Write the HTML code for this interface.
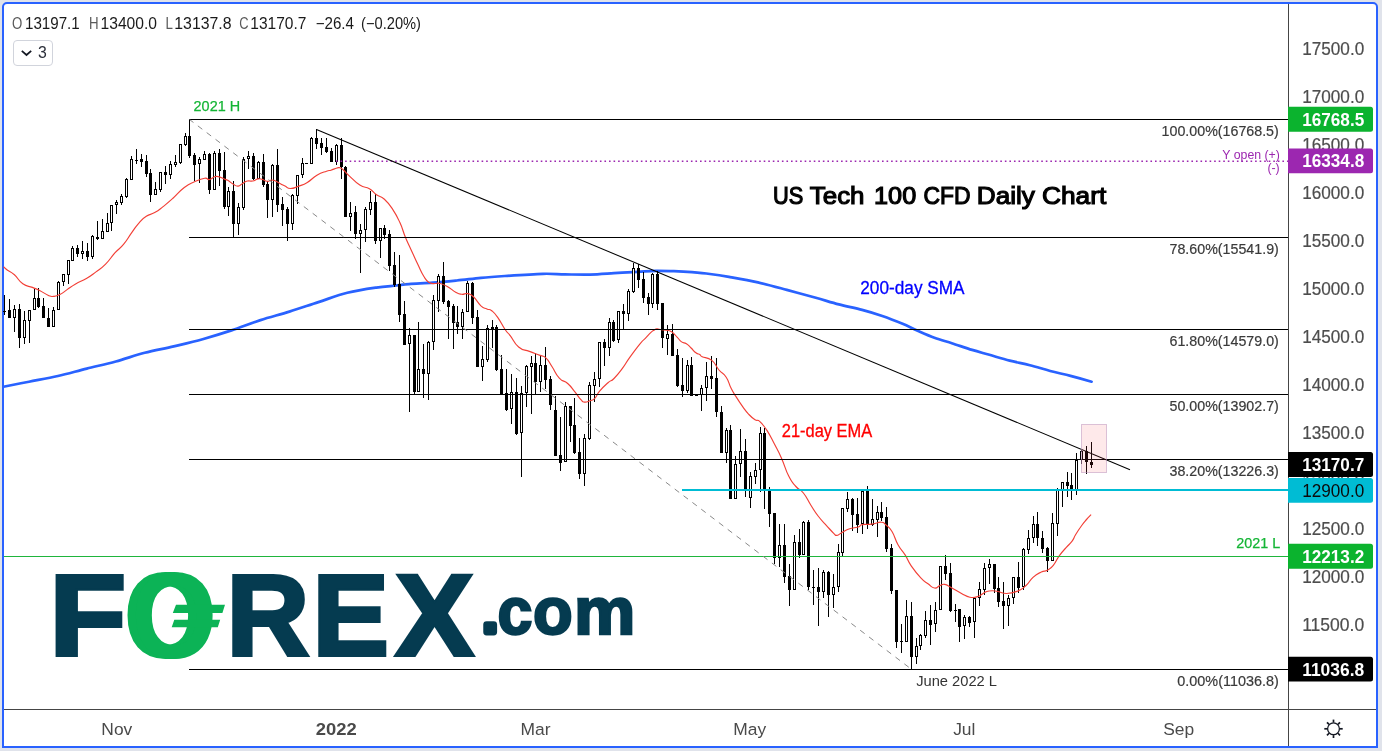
<!DOCTYPE html>
<html lang="en"><head><meta charset="utf-8"><title>US Tech 100 CFD Daily Chart</title>
<style>
html,body{margin:0;padding:0;}
body{width:1382px;height:751px;overflow:hidden;background:#e0e3eb;font-family:"Liberation Sans",sans-serif;position:relative;}
#frame{position:absolute;left:2px;top:2px;width:1372px;height:742px;border:2px solid #2962ff;border-radius:5px 5px 0 0;background:#fff;}
svg{position:absolute;left:0;top:0;will-change:transform;}
text{font-family:"Liberation Sans",sans-serif;}
.ax{font-size:18.2px;fill:#4d4d4d;stroke:#4d4d4d;stroke-width:0.2px;}
.tag{font-size:18.2px;font-weight:bold;fill:#fff;}
.fib{font-size:14.8px;fill:#3a3a3a;stroke:#3a3a3a;stroke-width:0.2px;}
.lg{font-size:16px;}
</style></head><body>
<div id="frame"></div>

<svg width="1382" height="751" viewBox="0 0 1382 751">
<path fill="none" stroke="#2962ff" stroke-width="2.7" stroke-linejoin="round" stroke-linecap="round" d="M3.5 386.8C7.8 385.9 19.9 383.5 29.0 381.7C38.1 379.9 48.3 378.2 57.9 376.0C67.5 373.8 77.1 371.0 86.8 368.6C96.5 366.2 106.2 364.1 115.8 361.5C125.4 358.9 135.0 355.3 144.7 352.8C154.3 350.3 164.0 348.7 173.7 346.4C183.3 344.1 193.0 341.9 202.6 339.2C212.2 336.5 221.8 333.6 231.5 330.4C241.2 327.2 250.8 323.2 260.5 320.1C270.1 317.0 279.8 314.6 289.4 311.6C299.0 308.6 308.8 305.2 318.4 302.1C328.0 299.0 337.6 295.2 347.3 292.8C357.0 290.4 368.1 288.8 376.3 287.6C384.5 286.4 391.1 286.1 396.5 285.5C401.9 284.9 402.9 284.6 409.0 284.1C415.1 283.6 425.0 283.3 433.0 282.7C441.0 282.1 448.9 281.3 456.9 280.5C464.9 279.7 472.9 278.6 480.9 277.8C488.9 277.1 494.5 276.7 504.9 276.0C515.2 275.3 533.0 274.1 543.0 273.8C553.0 273.5 557.2 274.3 565.0 274.4C572.8 274.5 581.8 274.8 590.0 274.6C598.2 274.4 606.0 273.7 614.0 273.2C622.0 272.7 631.0 272.2 638.0 271.8C645.0 271.4 649.9 270.9 655.9 270.8C661.9 270.7 667.9 271.0 673.9 271.2C679.9 271.4 685.9 271.7 691.9 272.2C697.9 272.7 703.7 273.2 709.9 274.0C716.1 274.8 720.9 275.5 728.9 276.9C736.9 278.3 748.2 280.2 757.9 282.4C767.5 284.6 777.1 287.3 786.8 289.9C796.4 292.5 807.1 295.4 815.8 297.8C824.5 300.2 831.2 302.4 838.9 304.4C846.6 306.4 854.9 308.0 862.1 309.9C869.3 311.8 875.5 313.7 882.3 316.0C889.0 318.3 896.8 321.4 902.6 323.8C908.4 326.2 911.8 328.2 917.1 330.5C922.4 332.8 928.6 335.6 934.4 337.7C940.2 339.8 945.5 341.2 951.8 343.2C958.1 345.2 965.8 348.0 972.1 349.9C978.4 351.8 983.1 353.0 989.4 354.8C995.7 356.6 1003.0 358.9 1009.7 360.6C1016.5 362.3 1023.2 363.5 1029.9 365.2C1036.7 366.9 1043.4 369.2 1050.2 371.0C1057.0 372.8 1063.6 374.1 1070.5 375.9C1077.4 377.7 1088.1 380.7 1091.6 381.7"/>
<g shape-rendering="crispEdges" stroke="#000" stroke-width="1">
<line x1="4.5" y1="295" x2="4.5" y2="315"/>
<line x1="3.0" y1="311.5" x2="6.0" y2="311.5"/>
<line x1="9.5" y1="299" x2="9.5" y2="318"/>
<rect x="8.0" y="310" width="3" height="8" fill="#000" stroke="none"/>
<line x1="14.5" y1="305" x2="14.5" y2="332"/>
<rect x="13.5" y="309.5" width="2" height="8" fill="#fff"/>
<line x1="19.5" y1="304" x2="19.5" y2="348"/>
<rect x="18.0" y="309" width="3" height="29" fill="#000" stroke="none"/>
<line x1="24.5" y1="311" x2="24.5" y2="344"/>
<rect x="23.5" y="320.5" width="2" height="17" fill="#fff"/>
<line x1="29.5" y1="310" x2="29.5" y2="343"/>
<rect x="28.5" y="310.5" width="2" height="10" fill="#fff"/>
<line x1="34.5" y1="289" x2="34.5" y2="310"/>
<rect x="33.5" y="298.5" width="2" height="11" fill="#fff"/>
<line x1="38.5" y1="288" x2="38.5" y2="308"/>
<rect x="37.0" y="298" width="3" height="9" fill="#000" stroke="none"/>
<line x1="43.5" y1="298" x2="43.5" y2="318"/>
<rect x="42.0" y="306" width="3" height="12" fill="#000" stroke="none"/>
<line x1="48.5" y1="308" x2="48.5" y2="327"/>
<rect x="47.0" y="318" width="3" height="9" fill="#000" stroke="none"/>
<line x1="53.5" y1="307" x2="53.5" y2="327"/>
<rect x="52.5" y="310.5" width="2" height="16" fill="#fff"/>
<line x1="58.5" y1="281" x2="58.5" y2="310"/>
<rect x="57.5" y="282.5" width="2" height="27" fill="#fff"/>
<line x1="63.5" y1="274" x2="63.5" y2="286"/>
<rect x="62.5" y="274.5" width="2" height="7" fill="#fff"/>
<line x1="68.5" y1="260" x2="68.5" y2="284"/>
<rect x="67.5" y="260.5" width="2" height="14" fill="#fff"/>
<line x1="72.5" y1="246" x2="72.5" y2="261"/>
<rect x="71.5" y="248.5" width="2" height="12" fill="#fff"/>
<line x1="77.5" y1="245" x2="77.5" y2="257"/>
<rect x="76.0" y="248" width="3" height="6" fill="#000" stroke="none"/>
<line x1="82.5" y1="241" x2="82.5" y2="259"/>
<rect x="81.5" y="251.5" width="2" height="2" fill="#fff"/>
<line x1="87.5" y1="243" x2="87.5" y2="261"/>
<rect x="86.0" y="251" width="3" height="6" fill="#000" stroke="none"/>
<line x1="92.5" y1="235" x2="92.5" y2="259"/>
<rect x="91.5" y="236.5" width="2" height="20" fill="#fff"/>
<line x1="97.5" y1="221" x2="97.5" y2="240"/>
<rect x="96.0" y="237" width="3" height="2" fill="#000" stroke="none"/>
<line x1="102.5" y1="219" x2="102.5" y2="239"/>
<rect x="101.5" y="231.5" width="2" height="7" fill="#fff"/>
<line x1="107.5" y1="213" x2="107.5" y2="232"/>
<rect x="106.5" y="223.5" width="2" height="8" fill="#fff"/>
<line x1="111.5" y1="205" x2="111.5" y2="231"/>
<rect x="110.5" y="205.5" width="2" height="17" fill="#fff"/>
<line x1="116.5" y1="200" x2="116.5" y2="214"/>
<rect x="115.5" y="202.5" width="2" height="2" fill="#fff"/>
<line x1="121.5" y1="194" x2="121.5" y2="205"/>
<rect x="120.5" y="196.5" width="2" height="6" fill="#fff"/>
<line x1="126.5" y1="178" x2="126.5" y2="198"/>
<rect x="125.5" y="179.5" width="2" height="17" fill="#fff"/>
<line x1="131.5" y1="156" x2="131.5" y2="180"/>
<rect x="130.5" y="159.5" width="2" height="20" fill="#fff"/>
<line x1="136.5" y1="149" x2="136.5" y2="164"/>
<line x1="135.0" y1="160.5" x2="138.0" y2="160.5"/>
<line x1="141.5" y1="154" x2="141.5" y2="167"/>
<rect x="140.0" y="159" width="3" height="3" fill="#000" stroke="none"/>
<line x1="146.5" y1="155" x2="146.5" y2="177"/>
<rect x="145.0" y="161" width="3" height="13" fill="#000" stroke="none"/>
<line x1="150.5" y1="169" x2="150.5" y2="202"/>
<rect x="149.0" y="173" width="3" height="22" fill="#000" stroke="none"/>
<line x1="155.5" y1="182" x2="155.5" y2="195"/>
<rect x="154.5" y="189.5" width="2" height="5" fill="#fff"/>
<line x1="160.5" y1="172" x2="160.5" y2="192"/>
<rect x="159.5" y="172.5" width="2" height="17" fill="#fff"/>
<line x1="165.5" y1="166" x2="165.5" y2="184"/>
<rect x="164.0" y="172" width="3" height="3" fill="#000" stroke="none"/>
<line x1="170.5" y1="161" x2="170.5" y2="179"/>
<rect x="169.5" y="164.5" width="2" height="10" fill="#fff"/>
<line x1="175.5" y1="155" x2="175.5" y2="167"/>
<rect x="174.5" y="162.5" width="2" height="2" fill="#fff"/>
<line x1="180.5" y1="144" x2="180.5" y2="164"/>
<rect x="179.5" y="144.5" width="2" height="18" fill="#fff"/>
<line x1="185.5" y1="133" x2="185.5" y2="146"/>
<rect x="184.5" y="136.5" width="2" height="8" fill="#fff"/>
<line x1="189.5" y1="119" x2="189.5" y2="158"/>
<rect x="188.0" y="136" width="3" height="20" fill="#000" stroke="none"/>
<line x1="194.5" y1="153" x2="194.5" y2="181"/>
<rect x="193.0" y="155" width="3" height="10" fill="#000" stroke="none"/>
<line x1="199.5" y1="157" x2="199.5" y2="183"/>
<rect x="198.5" y="159.5" width="2" height="4" fill="#fff"/>
<line x1="204.5" y1="151" x2="204.5" y2="160"/>
<rect x="203.5" y="154.5" width="2" height="5" fill="#fff"/>
<line x1="209.5" y1="153" x2="209.5" y2="194"/>
<rect x="208.0" y="154" width="3" height="36" fill="#000" stroke="none"/>
<line x1="214.5" y1="151" x2="214.5" y2="190"/>
<rect x="213.5" y="153.5" width="2" height="36" fill="#fff"/>
<line x1="219.5" y1="149" x2="219.5" y2="186"/>
<rect x="218.0" y="153" width="3" height="18" fill="#000" stroke="none"/>
<line x1="224.5" y1="152" x2="224.5" y2="209"/>
<rect x="223.0" y="170" width="3" height="37" fill="#000" stroke="none"/>
<line x1="228.5" y1="187" x2="228.5" y2="216"/>
<rect x="227.5" y="191.5" width="2" height="15" fill="#fff"/>
<line x1="233.5" y1="181" x2="233.5" y2="237"/>
<rect x="232.0" y="191" width="3" height="33" fill="#000" stroke="none"/>
<line x1="238.5" y1="203" x2="238.5" y2="235"/>
<rect x="237.5" y="207.5" width="2" height="16" fill="#fff"/>
<line x1="243.5" y1="157" x2="243.5" y2="210"/>
<rect x="242.5" y="159.5" width="2" height="48" fill="#fff"/>
<line x1="248.5" y1="151" x2="248.5" y2="169"/>
<rect x="247.5" y="156.5" width="2" height="2" fill="#fff"/>
<line x1="253.5" y1="153" x2="253.5" y2="180"/>
<rect x="252.0" y="156" width="3" height="23" fill="#000" stroke="none"/>
<line x1="258.5" y1="161" x2="258.5" y2="179"/>
<rect x="257.5" y="162.5" width="2" height="16" fill="#fff"/>
<line x1="263.5" y1="154" x2="263.5" y2="187"/>
<rect x="262.0" y="162" width="3" height="23" fill="#000" stroke="none"/>
<line x1="267.5" y1="181" x2="267.5" y2="218"/>
<rect x="266.0" y="184" width="3" height="16" fill="#000" stroke="none"/>
<line x1="272.5" y1="164" x2="272.5" y2="217"/>
<rect x="271.5" y="165.5" width="2" height="34" fill="#fff"/>
<line x1="277.5" y1="149" x2="277.5" y2="212"/>
<rect x="276.0" y="165" width="3" height="40" fill="#000" stroke="none"/>
<line x1="282.5" y1="197" x2="282.5" y2="226"/>
<rect x="281.0" y="204" width="3" height="6" fill="#000" stroke="none"/>
<line x1="287.5" y1="207" x2="287.5" y2="241"/>
<rect x="286.0" y="209" width="3" height="15" fill="#000" stroke="none"/>
<line x1="292.5" y1="194" x2="292.5" y2="230"/>
<rect x="291.5" y="195.5" width="2" height="28" fill="#fff"/>
<line x1="297.5" y1="175" x2="297.5" y2="204"/>
<rect x="296.5" y="175.5" width="2" height="20" fill="#fff"/>
<line x1="302.5" y1="158" x2="302.5" y2="178"/>
<rect x="301.5" y="163.5" width="2" height="11" fill="#fff"/>
<line x1="305.0" y1="163.5" x2="308.0" y2="163.5"/>
<line x1="311.5" y1="137" x2="311.5" y2="164"/>
<rect x="310.5" y="138.5" width="2" height="25" fill="#fff"/>
<line x1="316.5" y1="129" x2="316.5" y2="149"/>
<rect x="315.0" y="138" width="3" height="6" fill="#000" stroke="none"/>
<line x1="321.5" y1="138" x2="321.5" y2="155"/>
<rect x="320.0" y="143" width="3" height="5" fill="#000" stroke="none"/>
<line x1="326.5" y1="138" x2="326.5" y2="153"/>
<rect x="325.0" y="147" width="3" height="5" fill="#000" stroke="none"/>
<line x1="331.5" y1="148" x2="331.5" y2="162"/>
<rect x="330.0" y="151" width="3" height="11" fill="#000" stroke="none"/>
<line x1="336.5" y1="144" x2="336.5" y2="165"/>
<rect x="335.5" y="145.5" width="2" height="16" fill="#fff"/>
<line x1="341.5" y1="138" x2="341.5" y2="179"/>
<rect x="340.0" y="145" width="3" height="22" fill="#000" stroke="none"/>
<line x1="345.5" y1="166" x2="345.5" y2="217"/>
<rect x="344.0" y="167" width="3" height="50" fill="#000" stroke="none"/>
<line x1="350.5" y1="202" x2="350.5" y2="231"/>
<rect x="349.5" y="213.5" width="2" height="3" fill="#fff"/>
<line x1="355.5" y1="206" x2="355.5" y2="239"/>
<rect x="354.0" y="212" width="3" height="22" fill="#000" stroke="none"/>
<line x1="360.5" y1="224" x2="360.5" y2="273"/>
<rect x="359.5" y="230.5" width="2" height="3" fill="#fff"/>
<line x1="365.5" y1="207" x2="365.5" y2="242"/>
<rect x="364.5" y="209.5" width="2" height="20" fill="#fff"/>
<line x1="370.5" y1="191" x2="370.5" y2="215"/>
<rect x="369.5" y="202.5" width="2" height="7" fill="#fff"/>
<line x1="375.5" y1="194" x2="375.5" y2="244"/>
<rect x="374.0" y="202" width="3" height="39" fill="#000" stroke="none"/>
<line x1="380.5" y1="228" x2="380.5" y2="258"/>
<rect x="379.5" y="228.5" width="2" height="12" fill="#fff"/>
<line x1="384.5" y1="225" x2="384.5" y2="239"/>
<rect x="383.0" y="228" width="3" height="7" fill="#000" stroke="none"/>
<line x1="389.5" y1="230" x2="389.5" y2="271"/>
<rect x="388.0" y="234" width="3" height="32" fill="#000" stroke="none"/>
<line x1="394.5" y1="252" x2="394.5" y2="287"/>
<rect x="393.0" y="265" width="3" height="20" fill="#000" stroke="none"/>
<line x1="399.5" y1="255" x2="399.5" y2="322"/>
<rect x="398.0" y="284" width="3" height="31" fill="#000" stroke="none"/>
<line x1="404.5" y1="301" x2="404.5" y2="345"/>
<rect x="403.0" y="314" width="3" height="31" fill="#000" stroke="none"/>
<line x1="409.5" y1="328" x2="409.5" y2="412"/>
<rect x="408.5" y="335.5" width="2" height="8" fill="#fff"/>
<line x1="414.5" y1="335" x2="414.5" y2="394"/>
<rect x="413.0" y="335" width="3" height="57" fill="#000" stroke="none"/>
<line x1="418.5" y1="322" x2="418.5" y2="392"/>
<rect x="417.5" y="369.5" width="2" height="22" fill="#fff"/>
<line x1="423.5" y1="344" x2="423.5" y2="398"/>
<rect x="422.0" y="369" width="3" height="5" fill="#000" stroke="none"/>
<line x1="428.5" y1="341" x2="428.5" y2="400"/>
<rect x="427.5" y="342.5" width="2" height="31" fill="#fff"/>
<line x1="433.5" y1="295" x2="433.5" y2="350"/>
<rect x="432.5" y="300.5" width="2" height="41" fill="#fff"/>
<line x1="438.5" y1="274" x2="438.5" y2="312"/>
<rect x="437.5" y="276.5" width="2" height="24" fill="#fff"/>
<line x1="443.5" y1="262" x2="443.5" y2="304"/>
<rect x="442.0" y="276" width="3" height="26" fill="#000" stroke="none"/>
<line x1="448.5" y1="300" x2="448.5" y2="339"/>
<rect x="447.0" y="301" width="3" height="6" fill="#000" stroke="none"/>
<line x1="453.5" y1="304" x2="453.5" y2="349"/>
<rect x="452.0" y="306" width="3" height="17" fill="#000" stroke="none"/>
<line x1="457.5" y1="306" x2="457.5" y2="334"/>
<rect x="456.0" y="322" width="3" height="5" fill="#000" stroke="none"/>
<line x1="462.5" y1="309" x2="462.5" y2="339"/>
<rect x="461.5" y="312.5" width="2" height="14" fill="#fff"/>
<line x1="467.5" y1="281" x2="467.5" y2="312"/>
<rect x="466.5" y="283.5" width="2" height="28" fill="#fff"/>
<line x1="472.5" y1="282" x2="472.5" y2="324"/>
<rect x="471.0" y="283" width="3" height="35" fill="#000" stroke="none"/>
<line x1="477.5" y1="310" x2="477.5" y2="367"/>
<rect x="476.0" y="317" width="3" height="50" fill="#000" stroke="none"/>
<line x1="482.5" y1="346" x2="482.5" y2="381"/>
<rect x="481.5" y="359.5" width="2" height="7" fill="#fff"/>
<line x1="487.5" y1="325" x2="487.5" y2="362"/>
<rect x="486.5" y="328.5" width="2" height="31" fill="#fff"/>
<line x1="492.5" y1="320" x2="492.5" y2="348"/>
<rect x="491.0" y="327" width="3" height="3" fill="#000" stroke="none"/>
<line x1="496.5" y1="325" x2="496.5" y2="371"/>
<rect x="495.0" y="327" width="3" height="43" fill="#000" stroke="none"/>
<line x1="501.5" y1="355" x2="501.5" y2="395"/>
<rect x="500.0" y="369" width="3" height="26" fill="#000" stroke="none"/>
<line x1="506.5" y1="369" x2="506.5" y2="411"/>
<rect x="505.0" y="393" width="3" height="17" fill="#000" stroke="none"/>
<line x1="511.5" y1="374" x2="511.5" y2="424"/>
<rect x="510.5" y="392.5" width="2" height="16" fill="#fff"/>
<line x1="516.5" y1="378" x2="516.5" y2="435"/>
<rect x="515.0" y="392" width="3" height="42" fill="#000" stroke="none"/>
<line x1="521.5" y1="386" x2="521.5" y2="477"/>
<rect x="520.5" y="393.5" width="2" height="39" fill="#fff"/>
<line x1="526.5" y1="365" x2="526.5" y2="407"/>
<rect x="525.5" y="366.5" width="2" height="26" fill="#fff"/>
<line x1="531.5" y1="356" x2="531.5" y2="414"/>
<rect x="530.5" y="363.5" width="2" height="3" fill="#fff"/>
<line x1="535.5" y1="353" x2="535.5" y2="395"/>
<rect x="534.0" y="363" width="3" height="19" fill="#000" stroke="none"/>
<line x1="540.5" y1="356" x2="540.5" y2="392"/>
<rect x="539.5" y="365.5" width="2" height="16" fill="#fff"/>
<line x1="545.5" y1="347" x2="545.5" y2="389"/>
<rect x="544.0" y="365" width="3" height="15" fill="#000" stroke="none"/>
<line x1="550.5" y1="376" x2="550.5" y2="410"/>
<rect x="549.0" y="379" width="3" height="26" fill="#000" stroke="none"/>
<line x1="555.5" y1="396" x2="555.5" y2="456"/>
<rect x="554.0" y="410" width="3" height="46" fill="#000" stroke="none"/>
<line x1="560.5" y1="417" x2="560.5" y2="471"/>
<rect x="559.0" y="455" width="3" height="8" fill="#000" stroke="none"/>
<line x1="565.5" y1="402" x2="565.5" y2="462"/>
<rect x="564.5" y="406.5" width="2" height="55" fill="#fff"/>
<line x1="570.5" y1="406" x2="570.5" y2="442"/>
<rect x="569.0" y="406" width="3" height="20" fill="#000" stroke="none"/>
<line x1="574.5" y1="398" x2="574.5" y2="454"/>
<rect x="573.0" y="425" width="3" height="28" fill="#000" stroke="none"/>
<line x1="579.5" y1="438" x2="579.5" y2="479"/>
<rect x="578.0" y="452" width="3" height="22" fill="#000" stroke="none"/>
<line x1="584.5" y1="434" x2="584.5" y2="486"/>
<rect x="583.5" y="438.5" width="2" height="35" fill="#fff"/>
<line x1="589.5" y1="382" x2="589.5" y2="440"/>
<rect x="588.5" y="385.5" width="2" height="53" fill="#fff"/>
<line x1="594.5" y1="372" x2="594.5" y2="402"/>
<rect x="593.5" y="379.5" width="2" height="6" fill="#fff"/>
<line x1="599.5" y1="342" x2="599.5" y2="387"/>
<rect x="598.5" y="342.5" width="2" height="36" fill="#fff"/>
<line x1="604.5" y1="339" x2="604.5" y2="366"/>
<rect x="603.0" y="342" width="3" height="6" fill="#000" stroke="none"/>
<line x1="609.5" y1="318" x2="609.5" y2="356"/>
<rect x="608.5" y="322.5" width="2" height="25" fill="#fff"/>
<line x1="613.5" y1="320" x2="613.5" y2="342"/>
<rect x="612.0" y="322" width="3" height="19" fill="#000" stroke="none"/>
<line x1="618.5" y1="311" x2="618.5" y2="343"/>
<rect x="617.5" y="311.5" width="2" height="28" fill="#fff"/>
<line x1="623.5" y1="304" x2="623.5" y2="330"/>
<rect x="622.0" y="311" width="3" height="3" fill="#000" stroke="none"/>
<line x1="628.5" y1="289" x2="628.5" y2="321"/>
<rect x="627.5" y="291.5" width="2" height="22" fill="#fff"/>
<line x1="633.5" y1="263" x2="633.5" y2="293"/>
<rect x="632.5" y="268.5" width="2" height="23" fill="#fff"/>
<line x1="638.5" y1="264" x2="638.5" y2="288"/>
<rect x="637.0" y="268" width="3" height="12" fill="#000" stroke="none"/>
<line x1="643.5" y1="272" x2="643.5" y2="303"/>
<rect x="642.0" y="279" width="3" height="19" fill="#000" stroke="none"/>
<line x1="648.5" y1="293" x2="648.5" y2="315"/>
<rect x="647.0" y="297" width="3" height="7" fill="#000" stroke="none"/>
<line x1="652.5" y1="273" x2="652.5" y2="308"/>
<rect x="651.5" y="274.5" width="2" height="29" fill="#fff"/>
<line x1="657.5" y1="271" x2="657.5" y2="310"/>
<rect x="656.0" y="274" width="3" height="30" fill="#000" stroke="none"/>
<line x1="662.5" y1="303" x2="662.5" y2="348"/>
<rect x="661.0" y="303" width="3" height="35" fill="#000" stroke="none"/>
<line x1="667.5" y1="325" x2="667.5" y2="355"/>
<rect x="666.5" y="334.5" width="2" height="4" fill="#fff"/>
<line x1="672.5" y1="324" x2="672.5" y2="356"/>
<rect x="671.0" y="334" width="3" height="22" fill="#000" stroke="none"/>
<line x1="677.5" y1="349" x2="677.5" y2="387"/>
<rect x="676.0" y="355" width="3" height="31" fill="#000" stroke="none"/>
<line x1="682.5" y1="358" x2="682.5" y2="397"/>
<rect x="681.0" y="385" width="3" height="6" fill="#000" stroke="none"/>
<line x1="687.5" y1="360" x2="687.5" y2="393"/>
<rect x="686.5" y="365.5" width="2" height="25" fill="#fff"/>
<line x1="691.5" y1="357" x2="691.5" y2="396"/>
<rect x="690.0" y="365" width="3" height="31" fill="#000" stroke="none"/>
<line x1="695.0" y1="395.5" x2="698.0" y2="395.5"/>
<line x1="701.5" y1="385" x2="701.5" y2="411"/>
<rect x="700.5" y="388.5" width="2" height="6" fill="#fff"/>
<line x1="706.5" y1="362" x2="706.5" y2="401"/>
<rect x="705.5" y="376.5" width="2" height="11" fill="#fff"/>
<line x1="711.5" y1="356" x2="711.5" y2="389"/>
<rect x="710.0" y="376" width="3" height="3" fill="#000" stroke="none"/>
<line x1="716.5" y1="358" x2="716.5" y2="417"/>
<rect x="715.0" y="378" width="3" height="34" fill="#000" stroke="none"/>
<line x1="721.5" y1="406" x2="721.5" y2="453"/>
<rect x="720.0" y="412" width="3" height="41" fill="#000" stroke="none"/>
<line x1="726.5" y1="428" x2="726.5" y2="463"/>
<rect x="725.5" y="430.5" width="2" height="22" fill="#fff"/>
<line x1="730.5" y1="425" x2="730.5" y2="499"/>
<rect x="729.0" y="430" width="3" height="69" fill="#000" stroke="none"/>
<line x1="735.5" y1="456" x2="735.5" y2="499"/>
<rect x="734.5" y="464.5" width="2" height="34" fill="#fff"/>
<line x1="740.5" y1="429" x2="740.5" y2="477"/>
<rect x="739.5" y="451.5" width="2" height="12" fill="#fff"/>
<line x1="745.5" y1="439" x2="745.5" y2="497"/>
<rect x="744.0" y="451" width="3" height="40" fill="#000" stroke="none"/>
<line x1="750.5" y1="472" x2="750.5" y2="508"/>
<rect x="749.5" y="476.5" width="2" height="21" fill="#fff"/>
<line x1="755.5" y1="463" x2="755.5" y2="484"/>
<rect x="754.5" y="470.5" width="2" height="6" fill="#fff"/>
<line x1="760.5" y1="427" x2="760.5" y2="492"/>
<rect x="759.5" y="433.5" width="2" height="36" fill="#fff"/>
<line x1="764.5" y1="428" x2="764.5" y2="509"/>
<rect x="763.0" y="433" width="3" height="57" fill="#000" stroke="none"/>
<line x1="769.5" y1="487" x2="769.5" y2="527"/>
<rect x="768.0" y="490" width="3" height="24" fill="#000" stroke="none"/>
<line x1="774.5" y1="513" x2="774.5" y2="564"/>
<rect x="773.0" y="513" width="3" height="45" fill="#000" stroke="none"/>
<line x1="779.5" y1="524" x2="779.5" y2="567"/>
<rect x="778.5" y="545.5" width="2" height="12" fill="#fff"/>
<line x1="784.5" y1="524" x2="784.5" y2="583"/>
<rect x="783.0" y="545" width="3" height="32" fill="#000" stroke="none"/>
<line x1="789.5" y1="564" x2="789.5" y2="606"/>
<rect x="788.0" y="576" width="3" height="14" fill="#000" stroke="none"/>
<line x1="794.5" y1="535" x2="794.5" y2="590"/>
<rect x="793.5" y="542.5" width="2" height="47" fill="#fff"/>
<line x1="799.5" y1="529" x2="799.5" y2="558"/>
<rect x="798.0" y="542" width="3" height="13" fill="#000" stroke="none"/>
<line x1="803.5" y1="521" x2="803.5" y2="555"/>
<rect x="802.5" y="522.5" width="2" height="32" fill="#fff"/>
<line x1="808.5" y1="520" x2="808.5" y2="590"/>
<rect x="807.0" y="522" width="3" height="65" fill="#000" stroke="none"/>
<line x1="813.5" y1="570" x2="813.5" y2="605"/>
<line x1="812.0" y1="587.5" x2="815.0" y2="587.5"/>
<line x1="818.5" y1="568" x2="818.5" y2="626"/>
<rect x="817.0" y="587" width="3" height="5" fill="#000" stroke="none"/>
<line x1="823.5" y1="570" x2="823.5" y2="598"/>
<rect x="822.5" y="572.5" width="2" height="19" fill="#fff"/>
<line x1="828.5" y1="571" x2="828.5" y2="617"/>
<rect x="827.0" y="572" width="3" height="23" fill="#000" stroke="none"/>
<line x1="833.5" y1="574" x2="833.5" y2="608"/>
<rect x="832.5" y="587.5" width="2" height="7" fill="#fff"/>
<line x1="838.5" y1="544" x2="838.5" y2="592"/>
<rect x="837.5" y="552.5" width="2" height="34" fill="#fff"/>
<line x1="842.5" y1="508" x2="842.5" y2="556"/>
<rect x="841.5" y="508.5" width="2" height="44" fill="#fff"/>
<line x1="847.5" y1="492" x2="847.5" y2="512"/>
<rect x="846.5" y="499.5" width="2" height="9" fill="#fff"/>
<line x1="852.5" y1="498" x2="852.5" y2="531"/>
<rect x="851.0" y="499" width="3" height="16" fill="#000" stroke="none"/>
<line x1="857.5" y1="498" x2="857.5" y2="533"/>
<rect x="856.0" y="514" width="3" height="11" fill="#000" stroke="none"/>
<line x1="862.5" y1="491" x2="862.5" y2="534"/>
<rect x="861.5" y="491.5" width="2" height="32" fill="#fff"/>
<line x1="867.5" y1="486" x2="867.5" y2="529"/>
<rect x="866.0" y="491" width="3" height="33" fill="#000" stroke="none"/>
<line x1="872.5" y1="499" x2="872.5" y2="526"/>
<rect x="871.5" y="519.5" width="2" height="5" fill="#fff"/>
<line x1="877.5" y1="506" x2="877.5" y2="537"/>
<rect x="876.5" y="512.5" width="2" height="7" fill="#fff"/>
<line x1="881.5" y1="502" x2="881.5" y2="521"/>
<rect x="880.0" y="512" width="3" height="6" fill="#000" stroke="none"/>
<line x1="886.5" y1="507" x2="886.5" y2="552"/>
<rect x="885.0" y="517" width="3" height="32" fill="#000" stroke="none"/>
<line x1="891.5" y1="544" x2="891.5" y2="594"/>
<rect x="890.0" y="548" width="3" height="43" fill="#000" stroke="none"/>
<line x1="896.5" y1="590" x2="896.5" y2="648"/>
<rect x="895.0" y="590" width="3" height="52" fill="#000" stroke="none"/>
<line x1="901.5" y1="624" x2="901.5" y2="653"/>
<line x1="900.0" y1="641.5" x2="903.0" y2="641.5"/>
<line x1="906.5" y1="600" x2="906.5" y2="642"/>
<rect x="905.5" y="616.5" width="2" height="25" fill="#fff"/>
<line x1="911.5" y1="602" x2="911.5" y2="669"/>
<rect x="910.0" y="616" width="3" height="41" fill="#000" stroke="none"/>
<line x1="916.5" y1="638" x2="916.5" y2="664"/>
<rect x="915.5" y="646.5" width="2" height="10" fill="#fff"/>
<line x1="920.5" y1="634" x2="920.5" y2="650"/>
<rect x="919.5" y="635.5" width="2" height="10" fill="#fff"/>
<line x1="925.5" y1="611" x2="925.5" y2="638"/>
<rect x="924.5" y="620.5" width="2" height="15" fill="#fff"/>
<line x1="930.5" y1="605" x2="930.5" y2="645"/>
<rect x="929.0" y="620" width="3" height="5" fill="#000" stroke="none"/>
<line x1="935.5" y1="602" x2="935.5" y2="632"/>
<rect x="934.5" y="610.5" width="2" height="13" fill="#fff"/>
<line x1="940.5" y1="566" x2="940.5" y2="610"/>
<rect x="939.5" y="566.5" width="2" height="43" fill="#fff"/>
<line x1="945.5" y1="555" x2="945.5" y2="580"/>
<rect x="944.0" y="566" width="3" height="8" fill="#000" stroke="none"/>
<line x1="950.5" y1="563" x2="950.5" y2="612"/>
<rect x="949.0" y="573" width="3" height="38" fill="#000" stroke="none"/>
<line x1="955.5" y1="604" x2="955.5" y2="622"/>
<line x1="954.0" y1="610.5" x2="957.0" y2="610.5"/>
<line x1="959.5" y1="609" x2="959.5" y2="642"/>
<rect x="958.0" y="609" width="3" height="18" fill="#000" stroke="none"/>
<line x1="964.5" y1="615" x2="964.5" y2="639"/>
<rect x="963.5" y="617.5" width="2" height="8" fill="#fff"/>
<line x1="969.5" y1="616" x2="969.5" y2="627"/>
<rect x="968.0" y="617" width="3" height="6" fill="#000" stroke="none"/>
<line x1="974.5" y1="598" x2="974.5" y2="638"/>
<rect x="973.5" y="598.5" width="2" height="23" fill="#fff"/>
<line x1="979.5" y1="582" x2="979.5" y2="606"/>
<rect x="978.5" y="589.5" width="2" height="8" fill="#fff"/>
<line x1="984.5" y1="563" x2="984.5" y2="595"/>
<rect x="983.5" y="568.5" width="2" height="21" fill="#fff"/>
<line x1="989.5" y1="559" x2="989.5" y2="584"/>
<rect x="988.5" y="564.5" width="2" height="3" fill="#fff"/>
<line x1="994.5" y1="564" x2="994.5" y2="593"/>
<rect x="993.0" y="564" width="3" height="25" fill="#000" stroke="none"/>
<line x1="998.5" y1="577" x2="998.5" y2="607"/>
<rect x="997.0" y="588" width="3" height="14" fill="#000" stroke="none"/>
<line x1="1003.5" y1="582" x2="1003.5" y2="629"/>
<rect x="1002.0" y="601" width="3" height="5" fill="#000" stroke="none"/>
<line x1="1008.5" y1="595" x2="1008.5" y2="626"/>
<rect x="1007.5" y="598.5" width="2" height="7" fill="#fff"/>
<line x1="1013.5" y1="577" x2="1013.5" y2="604"/>
<rect x="1012.5" y="577.5" width="2" height="20" fill="#fff"/>
<line x1="1018.5" y1="562" x2="1018.5" y2="593"/>
<rect x="1017.0" y="577" width="3" height="11" fill="#000" stroke="none"/>
<line x1="1023.5" y1="548" x2="1023.5" y2="590"/>
<rect x="1022.5" y="549.5" width="2" height="37" fill="#fff"/>
<line x1="1028.5" y1="530" x2="1028.5" y2="554"/>
<rect x="1027.5" y="538.5" width="2" height="11" fill="#fff"/>
<line x1="1033.5" y1="516" x2="1033.5" y2="543"/>
<rect x="1032.5" y="524.5" width="2" height="13" fill="#fff"/>
<line x1="1037.5" y1="512" x2="1037.5" y2="546"/>
<rect x="1036.0" y="524" width="3" height="14" fill="#000" stroke="none"/>
<line x1="1042.5" y1="531" x2="1042.5" y2="553"/>
<rect x="1041.0" y="538" width="3" height="11" fill="#000" stroke="none"/>
<line x1="1047.5" y1="547" x2="1047.5" y2="572"/>
<rect x="1046.0" y="548" width="3" height="13" fill="#000" stroke="none"/>
<line x1="1052.5" y1="513" x2="1052.5" y2="561"/>
<rect x="1051.5" y="523.5" width="2" height="37" fill="#fff"/>
<line x1="1057.5" y1="488" x2="1057.5" y2="536"/>
<rect x="1056.5" y="490.5" width="2" height="33" fill="#fff"/>
<line x1="1062.5" y1="482" x2="1062.5" y2="507"/>
<rect x="1061.5" y="482.5" width="2" height="7" fill="#fff"/>
<line x1="1067.5" y1="472" x2="1067.5" y2="497"/>
<rect x="1066.0" y="482" width="3" height="4" fill="#000" stroke="none"/>
<line x1="1071.5" y1="473" x2="1071.5" y2="500"/>
<rect x="1070.0" y="485" width="3" height="4" fill="#000" stroke="none"/>
<line x1="1076.5" y1="453" x2="1076.5" y2="495"/>
<rect x="1075.5" y="460.5" width="2" height="29" fill="#fff"/>
<line x1="1081.5" y1="450" x2="1081.5" y2="464"/>
<rect x="1080.5" y="451.5" width="2" height="8" fill="#fff"/>
<line x1="1086.5" y1="446" x2="1086.5" y2="474"/>
<rect x="1085.0" y="451" width="3" height="11" fill="#000" stroke="none"/>
<line x1="1091.5" y1="442" x2="1091.5" y2="468"/>
<rect x="1090.0" y="462" width="3" height="3" fill="#000" stroke="none"/>
</g>
<path fill="none" stroke="#f23f36" stroke-width="1.15" stroke-linejoin="round" d="M3.5 266.8C4.5 267.7 4.3 267.9 7.2 270.0C10.1 272.1 10.2 271.1 14.4 274.8C18.6 278.5 18.0 280.4 22.8 283.8C27.6 287.2 27.9 285.6 32.4 287.4C36.9 289.2 35.4 288.3 39.6 290.4C43.8 292.5 44.3 293.6 48.0 295.2C51.7 296.8 50.1 296.6 53.3 296.4C56.5 296.2 56.2 296.4 59.9 294.6C63.6 292.8 62.9 292.5 67.1 289.6C71.3 286.7 70.5 286.9 75.6 283.9C80.7 280.9 81.0 281.7 86.4 278.5C91.8 275.3 90.9 275.7 96.0 271.9C101.1 268.1 100.5 269.2 105.6 264.1C110.7 259.0 110.3 258.0 115.1 252.7C119.9 247.4 119.0 249.8 123.5 244.4C128.0 239.0 127.7 238.2 131.9 232.4C136.1 226.6 135.3 227.1 139.1 222.8C142.9 218.5 142.1 218.9 146.3 216.2C150.5 213.5 150.2 215.2 154.7 212.6C159.2 210.0 158.3 210.4 163.1 206.6C167.9 202.8 167.0 203.6 172.7 198.5C178.4 193.4 178.4 192.0 184.3 187.5C190.2 183.0 189.6 184.0 195.0 181.5C200.4 179.0 200.8 178.7 204.7 178.2C208.6 177.7 206.3 180.0 209.5 179.5C212.7 179.0 212.6 176.4 216.7 176.4C220.8 176.4 221.9 178.3 225.0 179.4C228.1 180.5 226.1 179.3 228.2 180.5C230.3 181.7 230.4 182.5 233.0 184.0C235.6 185.5 235.5 186.3 238.1 186.1C240.7 185.9 240.1 184.8 242.6 183.4C245.1 182.0 244.7 181.6 247.4 181.0C250.1 180.4 249.9 181.6 252.7 181.0C255.5 180.4 255.4 179.3 258.0 178.9C260.6 178.5 259.9 178.8 262.3 179.4C264.7 180.0 264.5 181.1 267.1 181.3C269.7 181.5 269.5 180.0 271.9 180.0C274.3 180.0 273.7 180.2 276.1 181.3C278.5 182.4 278.5 182.7 280.9 184.0C283.3 185.3 282.4 184.9 285.0 186.1C287.6 187.3 286.8 188.5 290.5 188.5C294.2 188.5 294.4 187.7 298.9 186.1C303.4 184.5 302.5 185.4 307.3 182.5C312.1 179.6 311.8 178.3 316.9 175.3C322.0 172.3 322.7 172.6 326.5 171.2C330.3 169.8 328.2 171.1 331.0 170.2C333.8 169.3 334.4 168.6 337.0 168.0C339.6 167.4 338.7 167.3 340.6 168.0C342.5 168.7 342.0 168.8 344.2 170.8C346.4 172.8 344.8 171.8 349.0 175.6C353.2 179.4 354.4 181.6 359.8 185.1C365.2 188.6 364.9 186.1 369.4 188.7C373.9 191.3 372.5 191.9 376.5 194.7C380.5 197.5 380.1 195.3 384.4 199.2C388.7 203.1 388.6 203.2 392.7 209.4C396.8 215.6 396.5 215.2 399.9 222.6C403.3 230.0 402.4 230.0 405.3 237.0C408.2 244.0 407.3 241.6 410.7 248.9C414.1 256.2 414.4 257.1 417.9 264.5C421.4 271.9 420.9 271.7 423.9 276.5C426.9 281.3 426.1 280.6 429.3 282.5C432.5 284.4 433.3 283.3 435.9 283.5C438.5 283.7 435.9 282.4 438.9 283.2C441.9 284.0 442.8 284.0 447.3 286.4C451.8 288.8 451.9 290.1 455.7 292.2C459.5 294.3 458.5 293.9 461.7 294.3C464.9 294.7 464.5 292.9 467.7 293.6C470.9 294.3 470.2 293.7 473.7 297.0C477.2 300.3 477.4 302.7 480.9 305.9C484.4 309.1 484.0 307.6 486.9 308.9C489.8 310.2 488.8 308.5 491.7 310.7C494.6 312.9 494.2 312.3 497.7 317.3C501.2 322.3 501.6 324.4 504.9 329.3C508.2 334.2 506.5 330.9 510.2 335.6C513.9 340.3 513.5 342.8 518.6 347.0C523.7 351.2 523.7 349.2 529.4 351.4C535.1 353.6 535.6 353.6 540.1 355.4C544.6 357.2 542.9 355.1 546.1 358.1C549.3 361.1 548.6 361.5 552.1 366.8C555.6 372.1 555.1 373.6 559.3 378.1C563.5 382.6 563.5 379.8 567.7 383.5C571.9 387.2 571.4 387.6 574.9 391.9C578.4 396.2 578.3 397.0 580.9 399.7C583.5 402.4 582.1 401.8 584.5 402.1C586.9 402.4 587.3 401.7 590.0 400.7C592.7 399.7 592.2 400.9 594.8 398.3C597.4 395.7 596.1 395.3 599.6 391.1C603.1 386.9 604.2 386.1 608.0 382.7C611.8 379.3 610.2 382.3 614.0 378.5C617.8 374.7 618.2 374.0 622.4 368.4C626.6 362.8 624.9 364.2 629.6 357.6C634.3 351.0 635.8 348.9 640.0 343.8C644.2 338.7 642.4 341.4 645.3 338.4C648.2 335.4 648.4 334.8 650.7 332.6C653.0 330.4 652.2 331.2 653.9 330.2C655.6 329.2 655.0 329.0 657.0 328.9C659.0 328.8 658.7 329.4 661.3 329.7C663.9 330.0 663.7 329.6 666.6 330.2C669.5 330.8 669.1 330.1 672.0 332.0C674.9 333.9 674.7 334.8 677.3 337.4C679.9 340.0 679.2 340.2 681.6 341.9C684.0 343.6 683.9 342.2 686.4 343.8C688.9 345.4 688.6 345.6 691.1 348.0C693.6 350.4 693.5 351.0 695.9 352.8C698.3 354.6 698.3 353.6 700.0 354.7C701.7 355.8 699.1 355.3 702.2 356.8C705.3 358.3 707.3 356.9 711.8 360.4C716.3 363.9 715.2 365.5 719.0 370.0C722.8 374.5 723.0 372.4 726.2 377.2C729.4 382.0 728.4 382.9 731.0 388.0C733.6 393.1 732.6 391.2 735.8 396.3C739.0 401.4 739.5 402.2 743.0 407.1C746.5 412.0 745.7 411.1 748.9 414.5C752.1 417.9 752.2 417.9 755.1 419.8C758.0 421.7 756.7 418.7 759.9 421.6C763.1 424.5 763.3 424.7 767.1 430.6C770.9 436.5 770.5 436.4 774.3 443.8C778.1 451.2 777.7 449.6 781.5 458.2C785.3 466.8 784.9 468.6 788.7 476.1C792.5 483.6 792.0 482.0 795.9 486.5C799.8 491.0 799.4 488.0 803.4 493.0C807.4 498.0 807.0 499.1 810.9 505.2C814.8 511.3 813.9 510.6 818.1 516.0C822.3 521.4 822.3 521.0 826.5 525.6C830.7 530.2 831.0 530.7 833.7 533.3C836.4 535.9 834.8 535.4 836.7 535.4C838.6 535.4 838.2 534.8 840.9 533.3C843.6 531.8 843.7 531.1 846.9 529.7C850.1 528.3 849.7 528.8 852.9 528.0C856.1 527.2 856.5 527.7 858.9 526.8C861.3 525.9 858.6 525.3 862.0 524.6C865.4 523.9 866.5 524.7 871.6 524.1C876.7 523.5 877.4 522.0 881.2 522.2C885.0 522.4 883.1 522.5 886.0 525.0C888.9 527.5 888.8 526.2 892.0 531.5C895.2 536.8 894.5 538.5 898.0 544.7C901.5 550.9 901.6 549.3 905.1 554.9C908.6 560.5 907.0 559.7 911.2 565.8C915.4 571.9 916.3 573.0 920.8 577.8C925.3 582.6 924.3 581.1 928.0 583.8C931.7 586.5 931.3 587.5 934.5 588.0C937.7 588.5 937.2 586.6 939.9 585.6C942.6 584.6 941.5 583.8 944.7 584.4C947.9 585.0 947.4 585.6 951.9 588.0C956.4 590.4 956.7 590.9 961.5 593.4C966.3 595.9 965.4 596.4 969.9 597.2C974.4 598.0 974.8 597.4 978.3 596.4C981.8 595.4 980.2 594.8 983.1 593.4C986.0 592.0 985.4 591.6 989.1 591.0C992.8 590.4 992.3 590.5 997.0 591.2C1001.7 591.9 1001.2 593.5 1006.6 593.5C1012.0 593.5 1012.3 593.3 1017.4 591.2C1022.5 589.1 1021.6 589.5 1025.8 585.8C1030.0 582.1 1028.9 581.1 1033.0 577.4C1037.1 573.7 1037.5 573.9 1041.3 572.0C1045.1 570.1 1044.1 572.0 1047.3 570.2C1050.5 568.4 1050.1 569.3 1053.3 565.4C1056.5 561.5 1056.0 560.3 1059.4 555.6C1062.8 550.9 1062.7 551.6 1066.1 547.7C1069.5 543.8 1069.5 544.6 1072.1 541.1C1074.7 537.6 1073.1 538.7 1075.7 534.5C1078.3 530.3 1078.8 529.5 1081.7 525.5C1084.6 521.5 1084.0 522.4 1086.5 519.5C1089.0 516.6 1089.9 516.0 1091.1 514.7"/>
<g shape-rendering="crispEdges" stroke="#454545" stroke-width="1">
<line x1="4" y1="709.5" x2="1376" y2="709.5"/>
<line x1="1288.5" y1="4" x2="1288.5" y2="746"/>
</g>
<g shape-rendering="crispEdges" stroke="#000" stroke-width="1">
<line x1="189" y1="119.5" x2="1288" y2="119.5"/>
<line x1="189" y1="237.5" x2="1288" y2="237.5"/>
<line x1="189" y1="329.5" x2="1288" y2="329.5"/>
<line x1="189" y1="394.5" x2="1288" y2="394.5"/>
<line x1="189" y1="459.5" x2="1288" y2="459.5"/>
<line x1="189" y1="669.5" x2="1288" y2="669.5"/>
</g>
<line x1="4" y1="556.5" x2="1288" y2="556.5" stroke="#1fb53c" stroke-width="1" shape-rendering="crispEdges"/>
<line x1="336" y1="161.3" x2="1288" y2="161.3" stroke="#9c27b0" stroke-width="1.5" stroke-dasharray="1.6 2.95"/>
<line x1="189.5" y1="119.5" x2="911.5" y2="669.3" stroke="#888" stroke-width="1" stroke-dasharray="5.6 5.5" stroke-dashoffset="0.6"/>
<line x1="682" y1="490.0" x2="1288" y2="490.0" stroke="#00bcd4" stroke-width="2.2"/>
<line x1="316.5" y1="129.4" x2="1130" y2="469.7" stroke="#000" stroke-width="1.05"/>
<rect x="1081.5" y="424.5" width="25" height="48" fill="rgba(244,67,80,0.118)" stroke="rgba(190,150,190,0.55)" stroke-width="1"/>
<text class="fib" x="1161.6" y="136.0" textLength="117.2" lengthAdjust="spacingAndGlyphs">100.00%(16768.5)</text>
<text class="fib" x="1169.5" y="253.7" textLength="109.3" lengthAdjust="spacingAndGlyphs">78.60%(15541.9)</text>
<text class="fib" x="1169.5" y="346.1" textLength="109.3" lengthAdjust="spacingAndGlyphs">61.80%(14579.0)</text>
<text class="fib" x="1169.5" y="410.9" textLength="109.3" lengthAdjust="spacingAndGlyphs">50.00%(13902.7)</text>
<text class="fib" x="1169.5" y="475.8" textLength="109.3" lengthAdjust="spacingAndGlyphs">38.20%(13226.3)</text>
<text class="fib" x="1177.3" y="685.9" textLength="101.5" lengthAdjust="spacingAndGlyphs">0.00%(11036.8)</text>
<text x="193.6" y="110.8" font-size="15.3" fill="#14b535" stroke="#14b535" stroke-width="0.25" textLength="46.5" lengthAdjust="spacingAndGlyphs">2021 H</text>
<text x="1236.3" y="547.8" font-size="15.3" fill="#14b535" stroke="#14b535" stroke-width="0.25" textLength="44" lengthAdjust="spacingAndGlyphs">2021 L</text>
<text x="916.2" y="685.8" font-size="15.5" fill="#333" textLength="80.8" lengthAdjust="spacingAndGlyphs">June 2022 L</text>
<text y="204.3" font-size="24.6" fill="#000" stroke="#000" stroke-width="1.15"><tspan x="773.0" textLength="30.3" lengthAdjust="spacingAndGlyphs">US</tspan> <tspan x="809.8" textLength="54.7" lengthAdjust="spacingAndGlyphs">Tech</tspan> <tspan x="874.1" textLength="42.1" lengthAdjust="spacingAndGlyphs">100</tspan> <tspan x="923.5" textLength="47.0" lengthAdjust="spacingAndGlyphs">CFD</tspan> <tspan x="976.8" textLength="58.1" lengthAdjust="spacingAndGlyphs">Daily</tspan> <tspan x="1041.9" textLength="64.3" lengthAdjust="spacingAndGlyphs">Chart</tspan></text>
<text x="860.3" y="293.8" font-size="18" fill="#0000ff" stroke="#0000ff" stroke-width="0.3" textLength="104.3" lengthAdjust="spacingAndGlyphs">200-day SMA</text>
<text x="781.8" y="436.8" font-size="18" fill="#ff0000" stroke="#ff0000" stroke-width="0.3" textLength="90.4" lengthAdjust="spacingAndGlyphs">21-day EMA</text>
<text x="1222.3" y="158.6" font-size="12.3" fill="#9c27b0" textLength="57.6" lengthAdjust="spacingAndGlyphs">Y open (+)</text>
<text x="1279.7" y="171.6" font-size="12.3" fill="#9c27b0" text-anchor="end">(-)</text>
<text class="ax" x="1302.2" y="630.8" textLength="62" lengthAdjust="spacingAndGlyphs">11500.0</text>
<text class="ax" x="1302.2" y="582.8" textLength="62" lengthAdjust="spacingAndGlyphs">12000.0</text>
<text class="ax" x="1302.2" y="534.8" textLength="62" lengthAdjust="spacingAndGlyphs">12500.0</text>
<text class="ax" x="1302.2" y="486.8" textLength="62" lengthAdjust="spacingAndGlyphs">13000.0</text>
<text class="ax" x="1302.2" y="438.9" textLength="62" lengthAdjust="spacingAndGlyphs">13500.0</text>
<text class="ax" x="1302.2" y="390.9" textLength="62" lengthAdjust="spacingAndGlyphs">14000.0</text>
<text class="ax" x="1302.2" y="342.9" textLength="62" lengthAdjust="spacingAndGlyphs">14500.0</text>
<text class="ax" x="1302.2" y="295.0" textLength="62" lengthAdjust="spacingAndGlyphs">15000.0</text>
<text class="ax" x="1302.2" y="247.0" textLength="62" lengthAdjust="spacingAndGlyphs">15500.0</text>
<text class="ax" x="1302.2" y="199.0" textLength="62" lengthAdjust="spacingAndGlyphs">16000.0</text>
<text class="ax" x="1302.2" y="151.1" textLength="62" lengthAdjust="spacingAndGlyphs">16500.0</text>
<text class="ax" x="1302.2" y="103.1" textLength="62" lengthAdjust="spacingAndGlyphs">17000.0</text>
<text class="ax" x="1302.2" y="55.1" textLength="62" lengthAdjust="spacingAndGlyphs">17500.0</text>
<path d="M1288 106.8H1370.5a2.5 2.5 0 0 1 2.5 2.5V129.2a2.5 2.5 0 0 1 -2.5 2.5H1288Z" fill="#0bb32e"/>
<text class="tag" x="1302.2" y="125.7" style="fill:#fff;font-weight:bold" textLength="62" lengthAdjust="spacingAndGlyphs">16768.5</text>
<path d="M1288 148.4H1370.5a2.5 2.5 0 0 1 2.5 2.5V170.8a2.5 2.5 0 0 1 -2.5 2.5H1288Z" fill="#9c27b0"/>
<text class="tag" x="1302.2" y="167.3" style="fill:#fff;font-weight:bold" textLength="62" lengthAdjust="spacingAndGlyphs">16334.8</text>
<path d="M1288 543.8H1370.5a2.5 2.5 0 0 1 2.5 2.5V566.2a2.5 2.5 0 0 1 -2.5 2.5H1288Z" fill="#0bb32e"/>
<text class="tag" x="1302.2" y="562.7" style="fill:#fff;font-weight:bold" textLength="62" lengthAdjust="spacingAndGlyphs">12213.2</text>
<path d="M1288 656.7H1370.5a2.5 2.5 0 0 1 2.5 2.5V679.1a2.5 2.5 0 0 1 -2.5 2.5H1288Z" fill="#000"/>
<text class="tag" x="1302.2" y="675.6" style="fill:#fff;font-weight:bold" textLength="62" lengthAdjust="spacingAndGlyphs">11036.8</text>
<path d="M1288 477.9H1370.5a2.5 2.5 0 0 1 2.5 2.5V500.3a2.5 2.5 0 0 1 -2.5 2.5H1288Z" fill="#00bcd4"/>
<text class="tag" x="1302.2" y="496.8" style="fill:#0b0b0b;font-weight:normal" textLength="62" lengthAdjust="spacingAndGlyphs">12900.0</text>
<path d="M1288 452.0H1370.5a2.5 2.5 0 0 1 2.5 2.5V474.4a2.5 2.5 0 0 1 -2.5 2.5H1288Z" fill="#000"/>
<text class="tag" x="1302.2" y="470.9" style="fill:#fff;font-weight:bold" textLength="62" lengthAdjust="spacingAndGlyphs">13170.7</text>
<text x="116.8" y="734.8" font-size="17.4" fill="#4a4a4a" text-anchor="middle">Nov</text>
<text x="336.2" y="734.8" font-size="17.4" fill="#4a4a4a" text-anchor="middle" font-weight="bold" textLength="41" lengthAdjust="spacingAndGlyphs">2022</text>
<text x="535.5" y="734.8" font-size="17.4" fill="#4a4a4a" text-anchor="middle">Mar</text>
<text x="749.8" y="734.8" font-size="17.4" fill="#4a4a4a" text-anchor="middle">May</text>
<text x="964.3" y="734.8" font-size="17.4" fill="#4a4a4a" text-anchor="middle">Jul</text>
<text x="1178.7" y="734.8" font-size="17.4" fill="#4a4a4a" text-anchor="middle">Sep</text>
<g transform="translate(1333.5 728.8)" fill="none" stroke="#131722" stroke-width="1.3"><circle r="5.9"/><line x1="6.30" y1="0.00" x2="9.20" y2="0.00" stroke-width="1.7"/><line x1="4.45" y1="4.45" x2="6.51" y2="6.51" stroke-width="1.7"/><line x1="0.00" y1="6.30" x2="0.00" y2="9.20" stroke-width="1.7"/><line x1="-4.45" y1="4.45" x2="-6.51" y2="6.51" stroke-width="1.7"/><line x1="-6.30" y1="0.00" x2="-9.20" y2="0.00" stroke-width="1.7"/><line x1="-4.45" y1="-4.45" x2="-6.51" y2="-6.51" stroke-width="1.7"/><line x1="-0.00" y1="-6.30" x2="-0.00" y2="-9.20" stroke-width="1.7"/><line x1="4.45" y1="-4.45" x2="6.51" y2="-6.51" stroke-width="1.7"/></g>
<text class="lg" x="12" y="29.1" fill="#5a5a5a" textLength="10.3" lengthAdjust="spacingAndGlyphs">O</text>
<text class="lg" x="25.0" y="29.1" fill="#1a1a1a" textLength="54.7" lengthAdjust="spacingAndGlyphs">13197.1</text>
<text class="lg" x="88.9" y="29.1" fill="#5a5a5a" textLength="9.6" lengthAdjust="spacingAndGlyphs">H</text>
<text class="lg" x="100.5" y="29.1" fill="#1a1a1a" textLength="56.5" lengthAdjust="spacingAndGlyphs">13400.0</text>
<text class="lg" x="165.4" y="29.1" fill="#5a5a5a" textLength="7.4" lengthAdjust="spacingAndGlyphs">L</text>
<text class="lg" x="174.3" y="29.1" fill="#1a1a1a" textLength="57.2" lengthAdjust="spacingAndGlyphs">13137.8</text>
<text class="lg" x="239.3" y="29.1" fill="#5a5a5a" textLength="9.3" lengthAdjust="spacingAndGlyphs">C</text>
<text class="lg" x="250.3" y="29.1" fill="#1a1a1a" textLength="56.1" lengthAdjust="spacingAndGlyphs">13170.7</text>
<text class="lg" x="315.7" y="29.1" fill="#1a1a1a" textLength="38.3" lengthAdjust="spacingAndGlyphs">−26.4</text>
<text class="lg" x="361.1" y="29.1" fill="#1a1a1a" textLength="59.9" lengthAdjust="spacingAndGlyphs">(−0.20%)</text>
<rect x="13.5" y="40.5" width="39" height="25" rx="3.5" fill="#fff" stroke="#d1d4dc" stroke-width="1"/>
<path d="M21.8 50.8L26.5 55L31.2 50.8" fill="none" stroke="#131722" stroke-width="1.7"/>
<text x="38" y="58" font-size="15.8" fill="#2a2e39">3</text>
<text y="654.8" font-weight="bold" font-size="114.5" fill="#053b50" stroke="#053b50" stroke-width="3.8" paint-order="stroke"><tspan x="49.3" textLength="77" lengthAdjust="spacingAndGlyphs">F</tspan><tspan x="127.2" textLength="86" lengthAdjust="spacingAndGlyphs" font-size="122" dy="3" fill="#0cb356" stroke="none">O</tspan><tspan x="226.5" textLength="82.7" lengthAdjust="spacingAndGlyphs" dy="-3">R</tspan><tspan x="312.5" textLength="76.4" lengthAdjust="spacingAndGlyphs">E</tspan><tspan x="395.5" textLength="78" lengthAdjust="spacingAndGlyphs">X</tspan></text>
<text y="657.8" font-weight="bold" font-size="122" fill="#0cb356"><tspan x="123.05" textLength="86" lengthAdjust="spacingAndGlyphs">O</tspan></text>
<text y="657.8" font-weight="bold" font-size="122" fill="#0cb356"><tspan x="131.35" textLength="86" lengthAdjust="spacingAndGlyphs">O</tspan></text>
<text y="634" font-weight="bold" font-size="66" fill="#053b50" stroke="#053b50" stroke-width="2.5"><tspan x="483.3" textLength="13.9" lengthAdjust="spacingAndGlyphs" font-size="50" dy="-2.4" stroke-width="6.8" stroke-linejoin="round">.</tspan><tspan x="497.5" textLength="34.9" lengthAdjust="spacingAndGlyphs" dy="2.4">c</tspan><tspan x="533" textLength="39.7" lengthAdjust="spacingAndGlyphs">o</tspan><tspan x="574" textLength="61.3" lengthAdjust="spacingAndGlyphs">m</tspan></text>
<path d="M176 604.8H225l-2.6 8.1H172.8Z M174.3 619.8H220.2l-2.4 7.4H171.7Z" fill="#0cb356"/>
</svg></body></html>
